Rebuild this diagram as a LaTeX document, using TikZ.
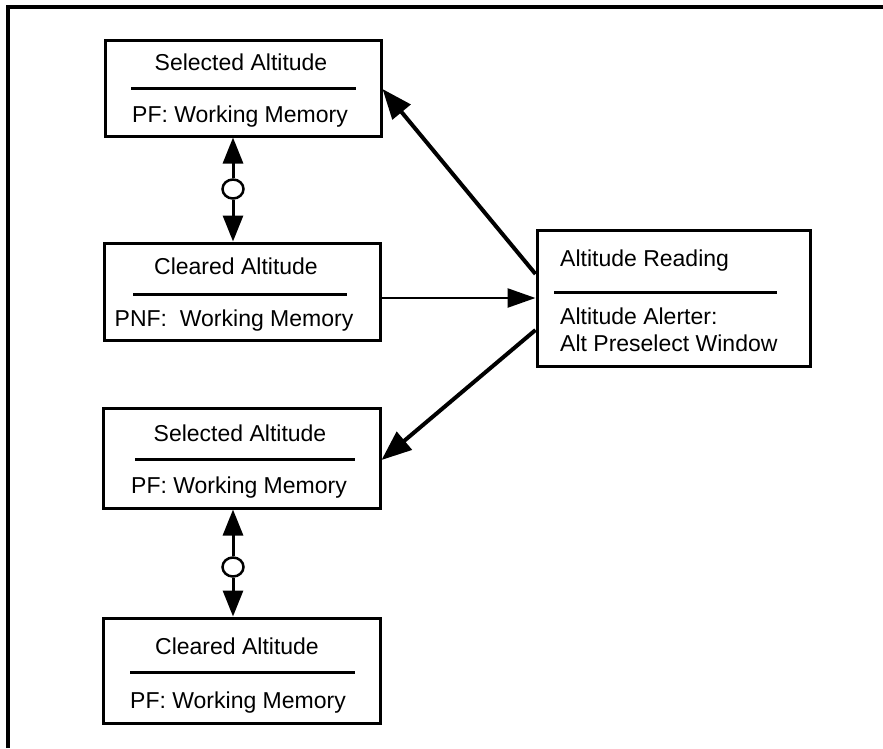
\documentclass[tikz,border=0pt]{standalone}
\usepackage{fontspec}
\setmainfont{Liberation Sans}
\usetikzlibrary{arrows.meta,shapes.geometric}
\begin{document}
\begin{tikzpicture}[x=1pt,y=-1pt,
  box/.style={draw,line width=3pt,rectangle,inner sep=0pt},
  txt/.style={inner sep=0pt,font=\fontsize{23}{27}\selectfont},
  ltxt/.style={txt,anchor=west},
  divider/.style={line width=3pt},
  ring/.style={draw,line width=2.5pt,ellipse,minimum width=21pt,minimum height=19pt,inner sep=0pt,fill=white},
  vline/.style={line width=3pt,-{Triangle[length=26pt,width=20pt]}},
  dline/.style={line width=4pt,-{Triangle[length=30pt,width=23pt]}},
  hline/.style={line width=2.5pt,-{Triangle[length=28pt,width=19pt]}}
]
\useasboundingbox (0,0) rectangle (883,748);
\fill[white] (0,0) rectangle (883,748);
\draw[line width=3.5pt] (8,748) -- (8,7) -- (883,7);

% boxes
\node[box,minimum width=276pt,minimum height=96pt] (b1) at (243,88) {};
\node[box,minimum width=276pt,minimum height=97pt] (b2) at (242,291.5) {};
\node[box,minimum width=277pt,minimum height=100pt] (b3) at (241.5,458) {};
\node[box,minimum width=277pt,minimum height=105pt] (b4) at (241.5,670.5) {};
\node[box,minimum width=273pt,minimum height=136pt] (rb) at (673.5,298) {};

% texts
\node[txt] (t1) at (241,62) {Selected Altitude};
\node[txt] (s1) at (240,117) {PF: Working Memory};
\draw[divider] (131,88) -- (356,88);
\node[txt] (t2) at (236,266) {Cleared Altitude};
\node[txt] (s2) at (234,321) {PNF:\ \ Working Memory};
\draw[divider] (133,294) -- (347,294);
\node[txt] (t3) at (240,433) {Selected Altitude};
\node[txt] (s3) at (239,488) {PF: Working Memory};
\draw[divider] (135,459) -- (355,459);
\node[txt] (t4) at (237,646) {Cleared Altitude};
\node[txt] (s4) at (238,703) {PF: Working Memory};
\draw[divider] (130,672) -- (355,672);
\node[ltxt] (r1) at (560,261) {Altitude Reading};
\draw[divider] (554,292) -- (777,292);
\node[ltxt] (r2) at (560,316) {Altitude Alerter:};
\node[ltxt] (r3) at (560,343) {Alt Preselect Window};

% double arrows with circles
\node[ring] (c1) at (233,189) {};
\draw[vline] (c1) -- (c1 |- b1.south);
\draw[vline] (c1) -- (c1 |- b2.north);
\node[ring] (c2) at (233,567) {};
\draw[vline] (c2) -- (c2 |- b3.south);
\draw[vline] (c2) -- (c2 |- b4.north);

% connectors from Altitude Reading
\draw[dline] ([yshift=24pt]rb.west) -- ([yshift=-1pt]b1.east);
\draw[dline] ([yshift=-32pt]rb.west) -- ([yshift=-2pt]b3.east);
\draw[hline] (rb.west -| b2.east) -- (rb.west);
\end{tikzpicture}
\end{document}
